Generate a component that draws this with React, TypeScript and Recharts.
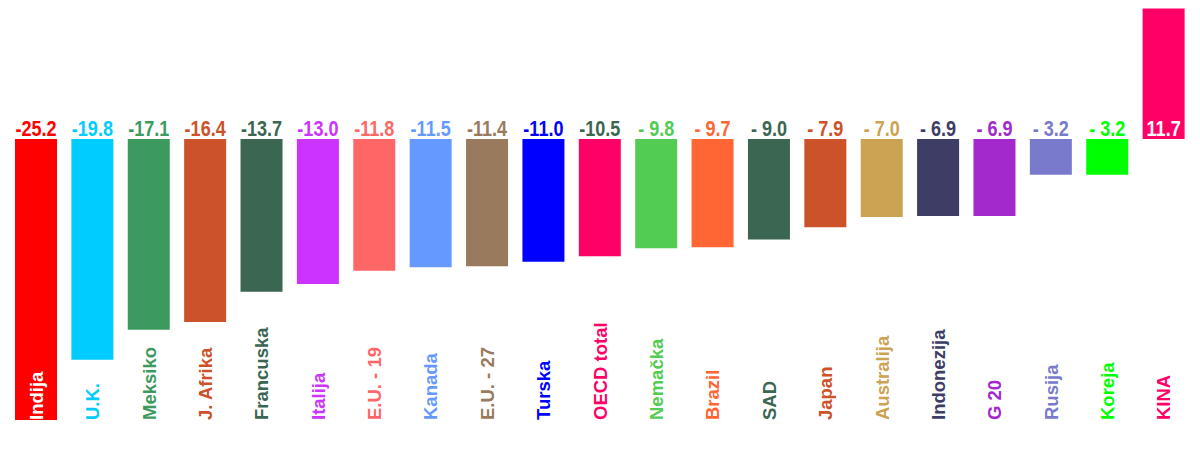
import { Bar, BarChart, Cell, LabelList, XAxis, YAxis } from "recharts";

const countries = [
  "Indija", "U.K.", "Meksiko", "J. Afrika", "Francuska", "Italija", "E.U. - 19",
  "Kanada", "E.U. - 27", "Turska", "OECD total", "Nemačka", "Brazil", "SAD",
  "Japan", "Australija", "Indonezija", "G 20", "Rusija", "Koreja", "KINA",
];

const changes = [
  -25.2, -19.8, -17.1, -16.4, -13.7, -13.0, -11.8, -11.5, -11.4, -11.0, -10.5,
  -9.8, -9.7, -9.0, -7.9, -7.0, -6.9, -6.9, -3.2, -3.2, 11.7,
];

const valueLabels = [
  "-25.2", "-19.8", "-17.1", "-16.4", "-13.7", "-13.0", "-11.8", "-11.5", "-11.4",
  "-11.0", "-10.5", "- 9.8", "- 9.7", "- 9.0", "- 7.9", "- 7.0", "- 6.9", "- 6.9",
  "- 3.2", "- 3.2", "11.7",
];

const barColors = [
  "#ff0000", "#00ccff", "#3d9a5e", "#cc5229", "#3a6652", "#cc33ff", "#ff6666",
  "#6699ff", "#997a5c", "#0000ff", "#ff0066", "#52cc52", "#ff6633", "#3a6652",
  "#cc5229", "#cca352", "#3d3d66", "#a329cc", "#7a7acc", "#00ff00", "#ff0066",
];

// value labels mostly follow the bar colour; OECD is dark green, KINA sits inside its bar
const valueColors = barColors.map((c, i) =>
  i === 10 ? "#3a6652" : i === 20 ? "#ffffff" : c
);
const nameColors = barColors.map((c, i) => (i === 0 ? "#ffffff" : c));

const data = countries.map((name, i) => ({ name, v: changes[i] }));

const NAME_START_Y = 412;

function ValueLabel(props: any) {
  const { x, y, width, height, index } = props;
  const top = Math.min(y, y + height);
  const bottom = Math.max(y, y + height);
  const zeroY = changes[index] < 0 ? top : bottom;
  const cx = x + width / 2;
  // condensed figures, like the original narrow face
  return (
    <g transform={`translate(${cx} ${zeroY - 3.5}) scale(0.84 1)`}>
      <text
        x={0}
        y={0}
        textAnchor="middle"
        fill={valueColors[index]}
        fontSize={21.5}
        fontWeight="bold"
        fontFamily="'Liberation Sans', Arial, sans-serif"
      >
        {valueLabels[index]}
      </text>
    </g>
  );
}

function NameLabel(props: any) {
  const { x, width, index } = props;
  const cx = x + width / 2 + 6.8;
  return (
    <text
      x={cx}
      y={NAME_START_Y}
      transform={`rotate(-90 ${cx} ${NAME_START_Y})`}
      textAnchor="start"
      fill={nameColors[index]}
      fontSize={18.5}
      fontWeight="bold"
      fontFamily="'Liberation Sans', Arial, sans-serif"
    >
      {countries[index]}
    </text>
  );
}

export default function App() {
  return (
    <div style={{ width: 1192, height: 442, background: "#ffffff" }}>
      <BarChart
        width={1192}
        height={442}
        data={data}
        margin={{ top: 0, right: 8, left: 0, bottom: 21 }}
      >
        <XAxis dataKey="name" hide />
        <YAxis type="number" domain={[-26, 11.75]} hide />
        <Bar dataKey="v" barSize={42} isAnimationActive={false}>
          {data.map((d, i) => (
            <Cell key={d.name} fill={barColors[i]} />
          ))}
          <LabelList dataKey="v" content={<ValueLabel />} />
          <LabelList dataKey="name" content={<NameLabel />} />
        </Bar>
      </BarChart>
    </div>
  );
}
